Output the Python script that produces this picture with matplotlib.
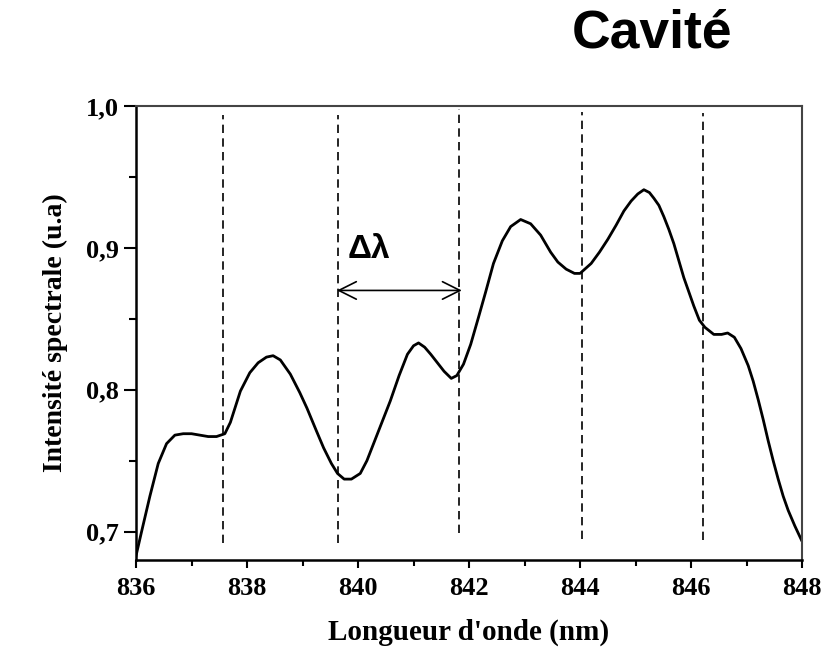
import numpy as np
import matplotlib
matplotlib.use('Agg')
import matplotlib.pyplot as plt
from matplotlib.ticker import MultipleLocator, FuncFormatter

plt.rcParams.update({
    'font.family': 'Liberation Serif',
    'font.weight': 'bold',
    'font.size': 18,
    'axes.labelweight': 'bold',
})

# spectre
wavelength = [836.00, 836.10, 836.25, 836.40, 836.55, 836.70, 836.85, 837.00, 837.15, 837.30,
              837.45, 837.60, 837.70, 837.88, 838.05, 838.20, 838.35, 838.47, 838.60, 838.78,
              838.95, 839.08, 839.25, 839.38, 839.52, 839.63, 839.75, 839.88, 840.04, 840.16,
              840.28, 840.43, 840.58, 840.74, 840.89, 841.00, 841.09, 841.20, 841.31, 841.43,
              841.55, 841.68, 841.78, 841.90, 842.03, 842.17, 842.30, 842.44, 842.60, 842.75,
              842.93, 843.11, 843.29, 843.47, 843.60, 843.75, 843.90, 844.00, 844.20, 844.35,
              844.50, 844.65, 844.79, 844.92, 845.04, 845.15, 845.25, 845.33, 845.42, 845.51,
              845.60, 845.69, 845.78, 845.87, 846.05, 846.15, 846.25, 846.41, 846.55, 846.66,
              846.78, 846.90, 847.03, 847.12, 847.21, 847.30, 847.39, 847.48, 847.57, 847.66,
              847.75, 847.87, 847.99]
intensity = [0.683, 0.700, 0.725, 0.748, 0.762, 0.768, 0.769, 0.769, 0.768, 0.767,
             0.767, 0.769, 0.777, 0.799, 0.812, 0.819, 0.823, 0.824, 0.821, 0.811,
             0.798, 0.787, 0.771, 0.759, 0.748, 0.741, 0.737, 0.737, 0.741, 0.750,
             0.762, 0.777, 0.792, 0.810, 0.825, 0.831, 0.833, 0.830, 0.825, 0.819,
             0.813, 0.808, 0.810, 0.818, 0.832, 0.851, 0.869, 0.889, 0.905, 0.915,
             0.920, 0.917, 0.909, 0.897, 0.890, 0.885, 0.882, 0.882, 0.889, 0.897,
             0.906, 0.916, 0.926, 0.933, 0.938, 0.941, 0.939, 0.935, 0.930, 0.922,
             0.913, 0.903, 0.891, 0.879, 0.859, 0.849, 0.844, 0.839, 0.839, 0.840,
             0.837, 0.829, 0.817, 0.806, 0.793, 0.779, 0.764, 0.750, 0.737, 0.725,
             0.715, 0.704, 0.694]

# lignes verticales en pointillés
dash_x = [837.56, 839.63, 841.82, 844.03, 846.21]
dash_top = [0.994, 0.994, 0.998, 0.996, 0.995]
dash_bottom = [0.692, 0.692, 0.699, 0.695, 0.694]

delta_start, delta_end, delta_y = 839.62, 841.87, 0.870

fig = plt.figure(figsize=(8.32, 6.5), dpi=100)
ax = fig.add_axes([0.1635, 0.1385, 0.8005, 0.6984])

ax.plot(wavelength, intensity, color='black', lw=2.0, solid_joinstyle='round')
ax.vlines(dash_x, dash_bottom, dash_top, colors='black', lw=1.2,
          linestyles=(0, (5, 3.2)))

ax.annotate('', xy=(delta_start, delta_y), xytext=(delta_end, delta_y),
            arrowprops=dict(arrowstyle='<->,head_length=0.7,head_width=0.35',
                            color='black', lw=1.2, shrinkA=0, shrinkB=0))
ax.text(839.82, 0.893, 'Δλ', family='Liberation Sans', fontweight='bold',
        fontsize=24, ha='left', va='baseline')

ax.set_xlim(836, 848)
ax.set_ylim(0.68, 1.0)
ax.xaxis.set_major_locator(MultipleLocator(2))
ax.xaxis.set_minor_locator(MultipleLocator(1))
ax.yaxis.set_major_locator(MultipleLocator(0.1))
ax.yaxis.set_minor_locator(MultipleLocator(0.05))
ax.yaxis.set_major_formatter(FuncFormatter(lambda v, p: f'{v:.1f}'.replace('.', ',')))

ax.tick_params(axis='x', which='major', length=6, width=1.5, pad=6, labelsize=19)
ax.tick_params(axis='x', which='minor', length=4, width=1.5)
ax.tick_params(axis='y', which='major', length=8.5, width=1.5, pad=4, labelsize=19)
ax.tick_params(axis='y', which='minor', length=5, width=1.5)

for side in ['left', 'bottom']:
    ax.spines[side].set_linewidth(1.8)
for side in ['top', 'right']:
    ax.spines[side].set_linewidth(1.5)
    ax.spines[side].set_color('#444444')

ax.set_xlabel("Longueur d'onde (nm)", fontsize=21, labelpad=14)
ax.set_ylabel('Intensité spectrale (u.a)', fontsize=20, labelpad=13)

fig.text(572 / 832, 1 - 48 / 650, 'Cavité', family='Liberation Sans',
         fontweight='bold', fontsize=38.5, ha='left', va='baseline')

plt.savefig('out.png', dpi=100)
